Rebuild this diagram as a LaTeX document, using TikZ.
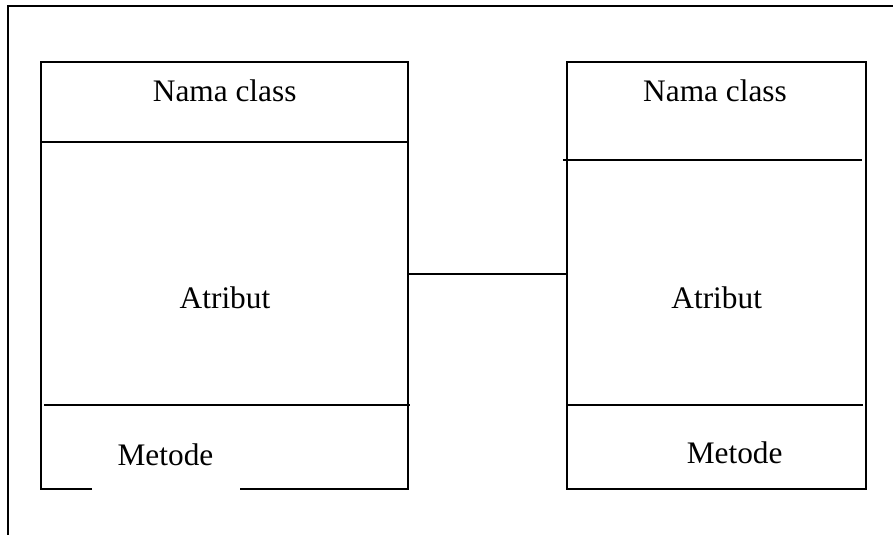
\documentclass[tikz,border=0pt]{standalone}
\usepackage{fontspec}
\setmainfont{Liberation Serif}
\usetikzlibrary{positioning, calc}

\begin{document}
\begin{tikzpicture}[x=0.75pt,y=-0.75pt,
        garis/.style={line width=1.5pt},
        sekat/.style={line width=1.2pt},
        kotak/.style={rectangle, inner sep=0pt, outer sep=0pt},
        teks/.style={anchor=base, font=\fontsize{23.5}{28}\selectfont}]
        \useasboundingbox (0,0) rectangle (893,535);

        % bingkai luar
        \draw[garis] (8,535) -- (8,6) -- (893,6);

        % dua kotak class
        \node[kotak, minimum width=367*0.75pt, minimum height=427*0.75pt] (kiri) at (224.5,275.5) {};
        \node[kotak, draw, garis, minimum width=299*0.75pt, minimum height=427*0.75pt] (kanan) at (716.5,275.5) {};

        \coordinate (celahA) at (92,489);
        \coordinate (celahB) at (240,489);
        \draw[garis] (celahA) -- (kiri.south west) -- (kiri.north west)
            -- (kiri.north east) -- (kiri.south east) -- (celahB);

        % sekat nama / atribut / metode
        \draw[sekat] (41,142) -- (408,142);
        \draw[sekat] (44,405) -- (410,405);
        \draw[sekat] (563,160) -- (862,160);
        \draw[sekat] (566,405) -- (863,405);

        \node[teks] (namaA) at (224.7,101.7) {Nama class};
        \node[teks] (namaB) at (715,101.7) {Nama class};
        \node[teks] (atributA) at (225,308.3) {Atribut};
        \node[teks] (atributB) at (716.7,308.3) {Atribut};
        \node[teks] (metodeA) at (165.5,465) {Metode};
        \node[teks] (metodeB) at (734.7,463.3) {Metode};

        % relasi antar class
        \draw[garis] ([yshift=1.1pt]kiri.east) -- ([yshift=1.1pt]kanan.west);

    \end{tikzpicture}
\end{document}
